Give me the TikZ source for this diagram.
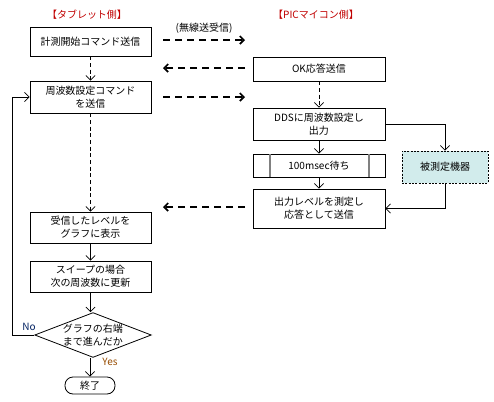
\documentclass[tikz,border=0pt]{standalone}
\usepackage{fontspec}
\setmainfont{Noto Sans CJK JP}
\usetikzlibrary{arrows.meta,shapes.geometric,patterns}
\definecolor{hdr}{HTML}{C00000}
\definecolor{devfill}{HTML}{D2ECEC}
\tikzset{
  every node/.style={font=\fontsize{7.5pt}{9.5pt}\selectfont, align=center, inner sep=0pt},
  proc/.style={draw, line width=0.6pt, fill=white},
  flow/.style={line width=0.5pt, -{Straight Barb[length=3.5pt,width=7pt]}},
  dflow/.style={line width=0.5pt, dashed, dash pattern=on 3pt off 2pt, -{Straight Barb[length=3.5pt,width=7pt]}},
  radio/.style={line width=1.3pt, dash pattern=on 5pt off 4pt, -{Straight Barb[length=3pt,width=6pt]}},
}
\begin{document}
\begin{tikzpicture}[x=0.75pt,y=-0.75pt]
\useasboundingbox (0,0) rectangle (494,401);
% headers
\node[text=hdr] (hT) at (87,15) {【タブレット側】};
\node[text=hdr] (hP) at (316,15) {【PICマイコン側】};
\node (rad) at (204,28) {(無線送受信)};
% left column
\node[proc, minimum width=90.75pt, minimum height=21.75pt] (b1) at (90.5,41.5) {計測開始コマンド送信};
\node[proc, minimum width=90.75pt, minimum height=24pt] (b2) at (90.5,97) {周波数設定コマンド\\を送信};
\node[proc, minimum width=90.75pt, minimum height=23.25pt] (b3) at (90.5,227.5) {受信したレベルを\\グラフに表示};
\node[proc, minimum width=90.75pt, minimum height=23.25pt] (b4) at (90.5,276.5) {スイープの場合\\次の周波数に更新};
\node[draw, line width=0.6pt, fill=white, diamond, aspect=2.6, minimum width=87pt, minimum height=33pt] (dm) at (93,335) {グラフの右端\\まで進んだか};
\node[draw, line width=0.6pt, rounded corners=6pt, minimum width=37.5pt, minimum height=12.75pt] (end) at (90,385.5) {終了};
% right column
\node[proc, minimum width=99pt, minimum height=18pt] (ok) at (319,69) {OK応答送信};
\node[proc, minimum width=99pt, minimum height=24pt] (dds) at (319,124) {DDSに周波数設定し\\出力};
\node[proc, minimum width=99pt, minimum height=17.25pt] (wait) at (319,165.5) {100msec待ち};
\draw[gray, line width=0.8pt] (270,154) -- (270,177) (369,154) -- (369,177);
\node[proc, minimum width=99pt, minimum height=29.25pt] (out) at (319,208.5) {出力レベルを測定し\\応答として送信};
\node[draw, line width=0.6pt, dashed, dash pattern=on 1.5pt off 1pt, fill=devfill, minimum width=64.5pt, minimum height=24pt] (dev) at (445,167) {被測定機器};
% flow connectors
\draw[dflow] (b1.south) -- (b2.north);
\draw[dflow] (b2.south) -- (b3.north);
\draw[flow] (b3.south) -- (b4.south |- b4.north);
\draw[flow] (b4.south) -- (b4.south |- dm.north);
\draw[flow] (dm.south -| end.north) -- (end.north);
\coordinate (lp) at (12,335);
\draw[flow] (dm.west) -- (lp) -- (12,97) -- (b2.west);
\node[text={rgb,255:red,0;green,32;blue,96}] (no) at (29,327) {No};
\node[text={rgb,255:red,150;green,75;blue,0}] (yes) at (110,362) {Yes};
\draw[dflow] (ok.south) -- (dds.north);
\draw[flow] (dds.south) -- (wait.north);
\draw[flow] (wait.south) -- (out.north);
\coordinate (c1) at (dev.north |- dds.east);
\draw[flow] (dds.east) -- (c1) -- (dev.north);
\coordinate (c2) at (dev.south |- out.east);
\draw[flow] (dev.south) -- (c2) -- (out.east);
% radio arrows
\coordinate (r1a) at (163,40); \coordinate (r1b) at (245,40);
\coordinate (r2a) at (245,68); \coordinate (r2b) at (163,68);
\coordinate (r3a) at (163,97); \coordinate (r3b) at (245,97);
\coordinate (r4a) at (245,207); \coordinate (r4b) at (163,207);
\draw[radio] (r1a) -- (r1b);
\draw[radio] (r2a) -- (r2b);
\draw[radio] (r3a) -- (r3b);
\draw[radio] (r4a) -- (r4b);
\end{tikzpicture}
\end{document}
